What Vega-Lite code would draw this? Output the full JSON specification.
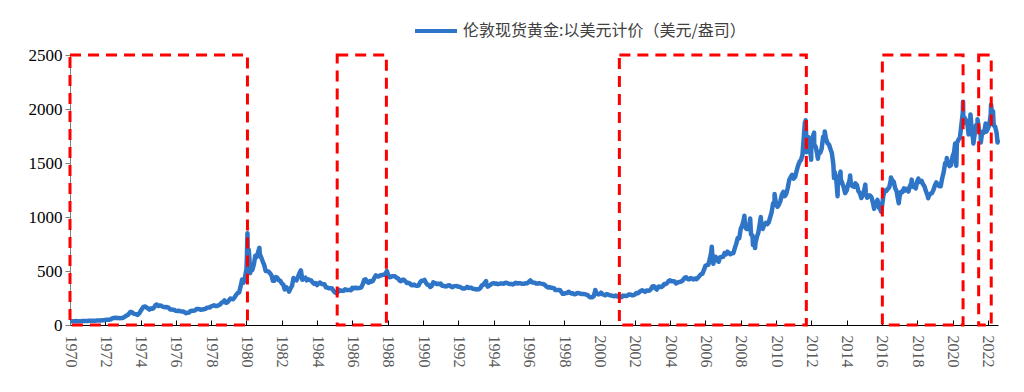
{
  "$schema": "https://vega.github.io/schema/vega-lite/v6.json",
  "autosize": {"type": "none"},
  "padding": {"left": 70, "top": 55, "right": 26, "bottom": 67},
  "width": 928,
  "height": 270,
  "background": "#ffffff",
  "config": {"view": {"stroke": null}},
  "datasets": {
    "gold": [
      {"d":"1970-01","p":34.9},{"d":"1970-02","p":35.0},{"d":"1970-03","p":35.1},{"d":"1970-04","p":35.6},{"d":"1970-05","p":35.9},{"d":"1970-06","p":35.4},{"d":"1970-07","p":35.3},{"d":"1970-08","p":35.4},{"d":"1970-09","p":36.2},{"d":"1970-10","p":37.5},{"d":"1970-11","p":37.4},{"d":"1970-12","p":37.4},
      {"d":"1971-01","p":37.9},{"d":"1971-02","p":38.7},{"d":"1971-03","p":38.9},{"d":"1971-04","p":39.0},{"d":"1971-05","p":40.5},{"d":"1971-06","p":40.1},{"d":"1971-07","p":41.0},{"d":"1971-08","p":42.7},{"d":"1971-09","p":42.0},{"d":"1971-10","p":42.5},{"d":"1971-11","p":42.9},{"d":"1971-12","p":43.5},
      {"d":"1972-01","p":45.8},{"d":"1972-02","p":48.3},{"d":"1972-03","p":48.3},{"d":"1972-04","p":49.0},{"d":"1972-05","p":54.6},{"d":"1972-06","p":62.1},{"d":"1972-07","p":65.7},{"d":"1972-08","p":67.0},{"d":"1972-09","p":65.5},{"d":"1972-10","p":64.9},{"d":"1972-11","p":62.9},{"d":"1972-12","p":63.9},
      {"d":"1973-01","p":65.1},{"d":"1973-02","p":74.2},{"d":"1973-03","p":84.4},{"d":"1973-04","p":90.5},{"d":"1973-05","p":102.0},{"d":"1973-06","p":120.1},{"d":"1973-07","p":120.2},{"d":"1973-08","p":106.8},{"d":"1973-09","p":103.0},{"d":"1973-10","p":100.1},{"d":"1973-11","p":94.0},{"d":"1973-12","p":106.7},
      {"d":"1974-01","p":129},{"d":"1974-02","p":150},{"d":"1974-03","p":168},{"d":"1974-04","p":172},{"d":"1974-05","p":163},{"d":"1974-06","p":154},{"d":"1974-07","p":143},{"d":"1974-08","p":154},{"d":"1974-09","p":151},{"d":"1974-10","p":158},{"d":"1974-11","p":181},{"d":"1974-12","p":190},
      {"d":"1975-01","p":176},{"d":"1975-02","p":180},{"d":"1975-03","p":178},{"d":"1975-04","p":170},{"d":"1975-05","p":167},{"d":"1975-06","p":164},{"d":"1975-07","p":166},{"d":"1975-08","p":161},{"d":"1975-09","p":144},{"d":"1975-10","p":143},{"d":"1975-11","p":142},{"d":"1975-12","p":139},
      {"d":"1976-01","p":131},{"d":"1976-02","p":130},{"d":"1976-03","p":132},{"d":"1976-04","p":128},{"d":"1976-05","p":125},{"d":"1976-06","p":125},{"d":"1976-07","p":117},{"d":"1976-08","p":109},{"d":"1976-09","p":114},{"d":"1976-10","p":116},{"d":"1976-11","p":131},{"d":"1976-12","p":133},
      {"d":"1977-01","p":132},{"d":"1977-02","p":136},{"d":"1977-03","p":148},{"d":"1977-04","p":149},{"d":"1977-05","p":146},{"d":"1977-06","p":141},{"d":"1977-07","p":143},{"d":"1977-08","p":145},{"d":"1977-09","p":149},{"d":"1977-10","p":159},{"d":"1977-11","p":161},{"d":"1977-12","p":161},
      {"d":"1978-01","p":173},{"d":"1978-02","p":178},{"d":"1978-03","p":183},{"d":"1978-04","p":175},{"d":"1978-05","p":176},{"d":"1978-06","p":183},{"d":"1978-07","p":188},{"d":"1978-08","p":206},{"d":"1978-09","p":212},{"d":"1978-10","p":227},{"d":"1978-11","p":206},{"d":"1978-12","p":208},
      {"d":"1979-01","p":227},{"d":"1979-02","p":245},{"d":"1979-03","p":242},{"d":"1979-04","p":239},{"d":"1979-05","p":257},{"d":"1979-06","p":279},{"d":"1979-07","p":295},{"d":"1979-08","p":301},{"d":"1979-09","p":355},{"d":"1979-10","p":420},{"d":"1979-11","p":392},{"d":"1979-12","p":440},
      {"d":"1980-01","p":520},{"d":"1980-01-10","p":640},{"d":"1980-01-21","p":850},{"d":"1980-01-28","p":650},{"d":"1980-02","p":670},{"d":"1980-02-15","p":700},{"d":"1980-03","p":620},{"d":"1980-03-18","p":480},{"d":"1980-04","p":520},{"d":"1980-05","p":510},{"d":"1980-06","p":560},{"d":"1980-07","p":640},{"d":"1980-08","p":630},{"d":"1980-09","p":680},{"d":"1980-09-25","p":715},{"d":"1980-10","p":660},{"d":"1980-11","p":625},{"d":"1980-12","p":590},
      {"d":"1981-01","p":557},{"d":"1981-02","p":500},{"d":"1981-03","p":499},{"d":"1981-04","p":495},{"d":"1981-05","p":480},{"d":"1981-06","p":461},{"d":"1981-07","p":409},{"d":"1981-08","p":410},{"d":"1981-09","p":443},{"d":"1981-10","p":437},{"d":"1981-11","p":413},{"d":"1981-12","p":410},
      {"d":"1982-01","p":384},{"d":"1982-02","p":374},{"d":"1982-03","p":330},{"d":"1982-04","p":350},{"d":"1982-05","p":334},{"d":"1982-06","p":310},{"d":"1982-07","p":339},{"d":"1982-08","p":364},{"d":"1982-09","p":435},{"d":"1982-10","p":422},{"d":"1982-11","p":414},{"d":"1982-12","p":444},
      {"d":"1983-01","p":481},{"d":"1983-02","p":505},{"d":"1983-03","p":419},{"d":"1983-04","p":432},{"d":"1983-05","p":438},{"d":"1983-06","p":413},{"d":"1983-07","p":423},{"d":"1983-08","p":416},{"d":"1983-09","p":412},{"d":"1983-10","p":394},{"d":"1983-11","p":382},{"d":"1983-12","p":388},
      {"d":"1984-01","p":370},{"d":"1984-02","p":386},{"d":"1984-03","p":394},{"d":"1984-04","p":381},{"d":"1984-05","p":377},{"d":"1984-06","p":378},{"d":"1984-07","p":348},{"d":"1984-08","p":348},{"d":"1984-09","p":341},{"d":"1984-10","p":340},{"d":"1984-11","p":341},{"d":"1984-12","p":320},
      {"d":"1985-01","p":303},{"d":"1985-02","p":295},{"d":"1985-03","p":304},{"d":"1985-04","p":325},{"d":"1985-05","p":316},{"d":"1985-06","p":317},{"d":"1985-07","p":317},{"d":"1985-08","p":330},{"d":"1985-09","p":323},{"d":"1985-10","p":325},{"d":"1985-11","p":325},{"d":"1985-12","p":322},
      {"d":"1986-01","p":345},{"d":"1986-02","p":339},{"d":"1986-03","p":346},{"d":"1986-04","p":340},{"d":"1986-05","p":342},{"d":"1986-06","p":343},{"d":"1986-07","p":348},{"d":"1986-08","p":376},{"d":"1986-09","p":418},{"d":"1986-10","p":423},{"d":"1986-11","p":398},{"d":"1986-12","p":391},
      {"d":"1987-01","p":408},{"d":"1987-02","p":401},{"d":"1987-03","p":409},{"d":"1987-04","p":438},{"d":"1987-05","p":460},{"d":"1987-06","p":450},{"d":"1987-07","p":450},{"d":"1987-08","p":461},{"d":"1987-09","p":460},{"d":"1987-10","p":466},{"d":"1987-11","p":466},{"d":"1987-12","p":486},{"d":"1987-12-14","p":500},
      {"d":"1988-01","p":477},{"d":"1988-02","p":442},{"d":"1988-03","p":444},{"d":"1988-04","p":452},{"d":"1988-05","p":451},{"d":"1988-06","p":451},{"d":"1988-07","p":437},{"d":"1988-08","p":432},{"d":"1988-09","p":413},{"d":"1988-10","p":406},{"d":"1988-11","p":420},{"d":"1988-12","p":419},
      {"d":"1989-01","p":404},{"d":"1989-02","p":388},{"d":"1989-03","p":391},{"d":"1989-04","p":385},{"d":"1989-05","p":371},{"d":"1989-06","p":368},{"d":"1989-07","p":375},{"d":"1989-08","p":365},{"d":"1989-09","p":362},{"d":"1989-10","p":367},{"d":"1989-11","p":394},{"d":"1989-12","p":409},
      {"d":"1990-01","p":410},{"d":"1990-02","p":417},{"d":"1990-03","p":393},{"d":"1990-04","p":374},{"d":"1990-05","p":369},{"d":"1990-06","p":352},{"d":"1990-07","p":362},{"d":"1990-08","p":395},{"d":"1990-09","p":389},{"d":"1990-10","p":380},{"d":"1990-11","p":382},{"d":"1990-12","p":378},
      {"d":"1991-01","p":383},{"d":"1991-02","p":364},{"d":"1991-03","p":363},{"d":"1991-04","p":358},{"d":"1991-05","p":357},{"d":"1991-06","p":366},{"d":"1991-07","p":368},{"d":"1991-08","p":356},{"d":"1991-09","p":349},{"d":"1991-10","p":359},{"d":"1991-11","p":360},{"d":"1991-12","p":361},
      {"d":"1992-01","p":354},{"d":"1992-02","p":354},{"d":"1992-03","p":345},{"d":"1992-04","p":338},{"d":"1992-05","p":337},{"d":"1992-06","p":341},{"d":"1992-07","p":353},{"d":"1992-08","p":343},{"d":"1992-09","p":345},{"d":"1992-10","p":344},{"d":"1992-11","p":335},{"d":"1992-12","p":334},
      {"d":"1993-01","p":329},{"d":"1993-02","p":330},{"d":"1993-03","p":330},{"d":"1993-04","p":342},{"d":"1993-05","p":367},{"d":"1993-06","p":372},{"d":"1993-07","p":392},{"d":"1993-07-30","p":406},{"d":"1993-08","p":378},{"d":"1993-09","p":355},{"d":"1993-10","p":365},{"d":"1993-11","p":374},{"d":"1993-12","p":383},
      {"d":"1994-01","p":387},{"d":"1994-02","p":382},{"d":"1994-03","p":384},{"d":"1994-04","p":378},{"d":"1994-05","p":381},{"d":"1994-06","p":385},{"d":"1994-07","p":385},{"d":"1994-08","p":381},{"d":"1994-09","p":392},{"d":"1994-10","p":390},{"d":"1994-11","p":384},{"d":"1994-12","p":379},
      {"d":"1995-01","p":379},{"d":"1995-02","p":376},{"d":"1995-03","p":382},{"d":"1995-04","p":391},{"d":"1995-05","p":385},{"d":"1995-06","p":387},{"d":"1995-07","p":386},{"d":"1995-08","p":383},{"d":"1995-09","p":383},{"d":"1995-10","p":383},{"d":"1995-11","p":386},{"d":"1995-12","p":387},
      {"d":"1996-01","p":400},{"d":"1996-02","p":412},{"d":"1996-03","p":396},{"d":"1996-04","p":393},{"d":"1996-05","p":392},{"d":"1996-06","p":385},{"d":"1996-07","p":383},{"d":"1996-08","p":387},{"d":"1996-09","p":383},{"d":"1996-10","p":381},{"d":"1996-11","p":378},{"d":"1996-12","p":369},
      {"d":"1997-01","p":355},{"d":"1997-02","p":347},{"d":"1997-03","p":352},{"d":"1997-04","p":344},{"d":"1997-05","p":344},{"d":"1997-06","p":341},{"d":"1997-07","p":324},{"d":"1997-08","p":324},{"d":"1997-09","p":323},{"d":"1997-10","p":325},{"d":"1997-11","p":306},{"d":"1997-12","p":289},
      {"d":"1998-01","p":289},{"d":"1998-02","p":297},{"d":"1998-03","p":296},{"d":"1998-04","p":308},{"d":"1998-05","p":299},{"d":"1998-06","p":292},{"d":"1998-07","p":293},{"d":"1998-08","p":284},{"d":"1998-09","p":289},{"d":"1998-10","p":296},{"d":"1998-11","p":294},{"d":"1998-12","p":291},
      {"d":"1999-01","p":287},{"d":"1999-02","p":288},{"d":"1999-03","p":286},{"d":"1999-04","p":282},{"d":"1999-05","p":277},{"d":"1999-06","p":262},{"d":"1999-07","p":256},{"d":"1999-08","p":257},{"d":"1999-09","p":265},{"d":"1999-10","p":311},{"d":"1999-10-06","p":325},{"d":"1999-11","p":293},{"d":"1999-12","p":284},
      {"d":"2000-01","p":284},{"d":"2000-02","p":300},{"d":"2000-03","p":286},{"d":"2000-04","p":280},{"d":"2000-05","p":275},{"d":"2000-06","p":286},{"d":"2000-07","p":282},{"d":"2000-08","p":275},{"d":"2000-09","p":273},{"d":"2000-10","p":270},{"d":"2000-11","p":266},{"d":"2000-12","p":272},
      {"d":"2001-01","p":265},{"d":"2001-02","p":262},{"d":"2001-03","p":263},{"d":"2001-04","p":258},{"d":"2001-05","p":272},{"d":"2001-06","p":270},{"d":"2001-07","p":268},{"d":"2001-08","p":273},{"d":"2001-09","p":283},{"d":"2001-10","p":283},{"d":"2001-11","p":276},{"d":"2001-12","p":276},
      {"d":"2002-01","p":282},{"d":"2002-02","p":296},{"d":"2002-03","p":294},{"d":"2002-04","p":303},{"d":"2002-05","p":314},{"d":"2002-06","p":321},{"d":"2002-07","p":314},{"d":"2002-08","p":307},{"d":"2002-09","p":319},{"d":"2002-10","p":317},{"d":"2002-11","p":319},{"d":"2002-12","p":333},
      {"d":"2003-01","p":357},{"d":"2003-02","p":359},{"d":"2003-03","p":340},{"d":"2003-04","p":328},{"d":"2003-05","p":355},{"d":"2003-06","p":356},{"d":"2003-07","p":351},{"d":"2003-08","p":360},{"d":"2003-09","p":379},{"d":"2003-10","p":379},{"d":"2003-11","p":389},{"d":"2003-12","p":407},
      {"d":"2004-01","p":414},{"d":"2004-02","p":405},{"d":"2004-03","p":406},{"d":"2004-04","p":404},{"d":"2004-05","p":384},{"d":"2004-06","p":392},{"d":"2004-07","p":398},{"d":"2004-08","p":400},{"d":"2004-09","p":406},{"d":"2004-10","p":420},{"d":"2004-11","p":439},{"d":"2004-12","p":442},
      {"d":"2005-01","p":424},{"d":"2005-02","p":423},{"d":"2005-03","p":434},{"d":"2005-04","p":429},{"d":"2005-05","p":422},{"d":"2005-06","p":431},{"d":"2005-07","p":424},{"d":"2005-08","p":438},{"d":"2005-09","p":456},{"d":"2005-10","p":470},{"d":"2005-11","p":476},{"d":"2005-12","p":510},
      {"d":"2006-01","p":549},{"d":"2006-02","p":555},{"d":"2006-03","p":557},{"d":"2006-04","p":610},{"d":"2006-05","p":676},{"d":"2006-05-12","p":725},{"d":"2006-06","p":596},{"d":"2006-06-14","p":567},{"d":"2006-07","p":633},{"d":"2006-08","p":632},{"d":"2006-09","p":598},{"d":"2006-10","p":586},{"d":"2006-11","p":627},{"d":"2006-12","p":629},
      {"d":"2007-01","p":631},{"d":"2007-02","p":665},{"d":"2007-03","p":655},{"d":"2007-04","p":679},{"d":"2007-05","p":667},{"d":"2007-06","p":655},{"d":"2007-07","p":665},{"d":"2007-08","p":665},{"d":"2007-09","p":712},{"d":"2007-10","p":754},{"d":"2007-11","p":806},{"d":"2007-12","p":803},
      {"d":"2008-01","p":889},{"d":"2008-02","p":922},{"d":"2008-03","p":968},{"d":"2008-03-17","p":1011},{"d":"2008-04","p":909},{"d":"2008-05","p":888},{"d":"2008-06","p":889},{"d":"2008-07","p":939},{"d":"2008-07-15","p":986},{"d":"2008-08","p":839},{"d":"2008-09","p":829},{"d":"2008-09-11","p":740},{"d":"2008-10","p":806},{"d":"2008-10-24","p":712},{"d":"2008-11","p":760},{"d":"2008-12","p":816},
      {"d":"2009-01","p":858},{"d":"2009-02","p":943},{"d":"2009-02-20","p":1000},{"d":"2009-03","p":924},{"d":"2009-04","p":890},{"d":"2009-05","p":928},{"d":"2009-06","p":946},{"d":"2009-07","p":934},{"d":"2009-08","p":949},{"d":"2009-09","p":996},{"d":"2009-10","p":1043},{"d":"2009-11","p":1127},{"d":"2009-12","p":1134},{"d":"2009-12-02","p":1212},
      {"d":"2010-01","p":1118},{"d":"2010-02","p":1095},{"d":"2010-03","p":1113},{"d":"2010-04","p":1148},{"d":"2010-05","p":1205},{"d":"2010-06","p":1232},{"d":"2010-07","p":1193},{"d":"2010-08","p":1215},{"d":"2010-09","p":1271},{"d":"2010-10","p":1342},{"d":"2010-11","p":1370},{"d":"2010-12","p":1391},
      {"d":"2011-01","p":1356},{"d":"2011-02","p":1372},{"d":"2011-03","p":1424},{"d":"2011-04","p":1474},{"d":"2011-05","p":1510},{"d":"2011-06","p":1528},{"d":"2011-07","p":1572},{"d":"2011-08","p":1756},{"d":"2011-08-22","p":1877},{"d":"2011-09","p":1772},{"d":"2011-09-06","p":1895},{"d":"2011-09-26","p":1600},{"d":"2011-10","p":1666},{"d":"2011-11","p":1739},{"d":"2011-12","p":1652},{"d":"2011-12-29","p":1531},
      {"d":"2012-01","p":1656},{"d":"2012-02","p":1742},{"d":"2012-02-28","p":1781},{"d":"2012-03","p":1673},{"d":"2012-04","p":1650},{"d":"2012-05","p":1585},{"d":"2012-05-16","p":1540},{"d":"2012-06","p":1596},{"d":"2012-07","p":1594},{"d":"2012-08","p":1630},{"d":"2012-09","p":1744},{"d":"2012-10","p":1747},{"d":"2012-10-05","p":1792},{"d":"2012-11","p":1721},{"d":"2012-12","p":1684},
      {"d":"2013-01","p":1671},{"d":"2013-02","p":1627},{"d":"2013-03","p":1593},{"d":"2013-04","p":1487},{"d":"2013-04-15","p":1360},{"d":"2013-05","p":1414},{"d":"2013-06","p":1343},{"d":"2013-06-28","p":1192},{"d":"2013-07","p":1286},{"d":"2013-08","p":1347},{"d":"2013-08-28","p":1420},{"d":"2013-09","p":1349},{"d":"2013-10","p":1316},{"d":"2013-11","p":1275},{"d":"2013-12","p":1221},
      {"d":"2014-01","p":1244},{"d":"2014-02","p":1300},{"d":"2014-03","p":1336},{"d":"2014-03-14","p":1385},{"d":"2014-04","p":1299},{"d":"2014-05","p":1287},{"d":"2014-06","p":1279},{"d":"2014-07","p":1311},{"d":"2014-08","p":1296},{"d":"2014-09","p":1239},{"d":"2014-10","p":1222},{"d":"2014-11","p":1176},{"d":"2014-12","p":1202},
      {"d":"2015-01","p":1251},{"d":"2015-01-22","p":1300},{"d":"2015-02","p":1227},{"d":"2015-03","p":1178},{"d":"2015-04","p":1198},{"d":"2015-05","p":1199},{"d":"2015-06","p":1181},{"d":"2015-07","p":1128},{"d":"2015-07-24","p":1077},{"d":"2015-08","p":1118},{"d":"2015-09","p":1125},{"d":"2015-10","p":1159},{"d":"2015-11","p":1086},{"d":"2015-12","p":1068},{"d":"2015-12-17","p":1049},
      {"d":"2016-01","p":1097},{"d":"2016-02","p":1200},{"d":"2016-03","p":1246},{"d":"2016-04","p":1242},{"d":"2016-05","p":1260},{"d":"2016-06","p":1276},{"d":"2016-07","p":1337},{"d":"2016-07-06","p":1366},{"d":"2016-08","p":1341},{"d":"2016-09","p":1326},{"d":"2016-10","p":1267},{"d":"2016-11","p":1238},{"d":"2016-12","p":1157},{"d":"2016-12-15","p":1128},
      {"d":"2017-01","p":1192},{"d":"2017-02","p":1234},{"d":"2017-03","p":1231},{"d":"2017-04","p":1266},{"d":"2017-05","p":1246},{"d":"2017-06","p":1260},{"d":"2017-07","p":1236},{"d":"2017-08","p":1283},{"d":"2017-09","p":1315},{"d":"2017-09-08","p":1346},{"d":"2017-10","p":1280},{"d":"2017-11","p":1283},{"d":"2017-12","p":1265},
      {"d":"2018-01","p":1331},{"d":"2018-01-25","p":1355},{"d":"2018-02","p":1331},{"d":"2018-03","p":1325},{"d":"2018-04","p":1335},{"d":"2018-05","p":1303},{"d":"2018-06","p":1282},{"d":"2018-07","p":1238},{"d":"2018-08","p":1202},{"d":"2018-08-16","p":1174},{"d":"2018-09","p":1198},{"d":"2018-10","p":1215},{"d":"2018-11","p":1221},{"d":"2018-12","p":1250},
      {"d":"2019-01","p":1291},{"d":"2019-02","p":1320},{"d":"2019-03","p":1301},{"d":"2019-04","p":1286},{"d":"2019-05","p":1284},{"d":"2019-06","p":1359},{"d":"2019-07","p":1413},{"d":"2019-08","p":1500},{"d":"2019-09","p":1510},{"d":"2019-09-04","p":1546},{"d":"2019-10","p":1495},{"d":"2019-11","p":1471},{"d":"2019-12","p":1480},
      {"d":"2020-01","p":1560},{"d":"2020-02","p":1597},{"d":"2020-02-24","p":1680},{"d":"2020-03","p":1591},{"d":"2020-03-19","p":1474},{"d":"2020-04","p":1683},{"d":"2020-05","p":1715},{"d":"2020-06","p":1732},{"d":"2020-07","p":1847},{"d":"2020-08","p":1968},{"d":"2020-08-06","p":2067},{"d":"2020-08-12","p":1870},{"d":"2020-09","p":1921},{"d":"2020-10","p":1900},{"d":"2020-11","p":1866},{"d":"2020-11-30","p":1765},{"d":"2020-12","p":1858},
      {"d":"2021-01","p":1867},{"d":"2021-01-06","p":1950},{"d":"2021-02","p":1808},{"d":"2021-03","p":1718},{"d":"2021-03-08","p":1680},{"d":"2021-04","p":1760},{"d":"2021-05","p":1850},{"d":"2021-06","p":1834},{"d":"2021-06-01","p":1905},{"d":"2021-07","p":1807},{"d":"2021-08","p":1785},{"d":"2021-08-09","p":1690},{"d":"2021-09","p":1775},{"d":"2021-10","p":1777},{"d":"2021-11","p":1821},{"d":"2021-11-16","p":1865},{"d":"2021-12","p":1790},
      {"d":"2022-01","p":1817},{"d":"2022-02","p":1856},{"d":"2022-03","p":1948},{"d":"2022-03-08","p":2040},{"d":"2022-04","p":1937},{"d":"2022-04-18","p":1980},{"d":"2022-05","p":1849},{"d":"2022-06","p":1836},{"d":"2022-07","p":1780},{"d":"2022-07-21","p":1690},{"d":"2022-07-28","p":1715}
    ],
    "boxes": [
      {"s":"1970-01-01","e":"1980-01-21"},
      {"s":"1985-02-20","e":"1987-12-05"},
      {"s":"2001-02-15","e":"2011-09-20"},
      {"s":"2016-01-10","e":"2020-08-06"},
      {"s":"2021-06-25","e":"2022-03-12"}
    ]
  },
  "layer": [
    {
      "data": {"name": "gold"},
      "mark": {"type": "line", "strokeWidth": 4.5, "strokeJoin": "round", "interpolate": "linear"},
      "encoding": {
        "x": {
          "field": "d", "type": "temporal",
          "scale": {"domain": ["1970-01-01", "2022-07-30"]},
          "axis": {
            "title": null, "format": "%Y", "tickCount": {"interval": "year", "step": 2},
            "labelAngle": 90, "labelFont": "Liberation Serif", "labelFontSize": 16, "labelColor": "#595959",
            "domainColor": "#000000", "domainWidth": 1.2, "tickColor": "#000000", "tickSize": -5, "tickWidth": 1,
            "labelPadding": 15, "grid": false, "labelFlush": false, "labelOverlap": false
          }
        },
        "y": {
          "field": "p", "type": "quantitative",
          "scale": {"domain": [0, 2500], "nice": false},
          "axis": {
            "title": null, "values": [0, 500, 1000, 1500, 2000, 2500], "format": "d",
            "labelFont": "Liberation Serif", "labelFontSize": 17, "labelColor": "#000000",
            "domainColor": "#808080", "tickColor": "#808080", "tickSize": 5, "labelPadding": 3, "grid": false
          }
        },
        "color": {
          "datum": "伦敦现货黄金:以美元计价（美元/盎司）",
          "scale": {"range": ["#2F75C7"]},
          "legend": {
            "title": null, "orient": "none", "legendX": 343, "legendY": -47, "padding": 0,
            "symbolType": "stroke", "symbolSize": 1764, "symbolStrokeWidth": 4,
            "labelFont": "Noto Sans CJK SC", "labelFontSize": 16, "labelColor": "#404040", "labelOffset": 4, "labelLimit": 500
          }
        }
      }
    },
    {
      "data": {"name": "boxes"},
      "mark": {"type": "rect", "fillOpacity": 0, "stroke": "#FF0000", "strokeWidth": 3, "strokeDash": [11, 7]},
      "encoding": {
        "x": {"field": "s", "type": "temporal"},
        "x2": {"field": "e"},
        "y": {"datum": 0},
        "y2": {"datum": 2500}
      }
    }
  ]
}
